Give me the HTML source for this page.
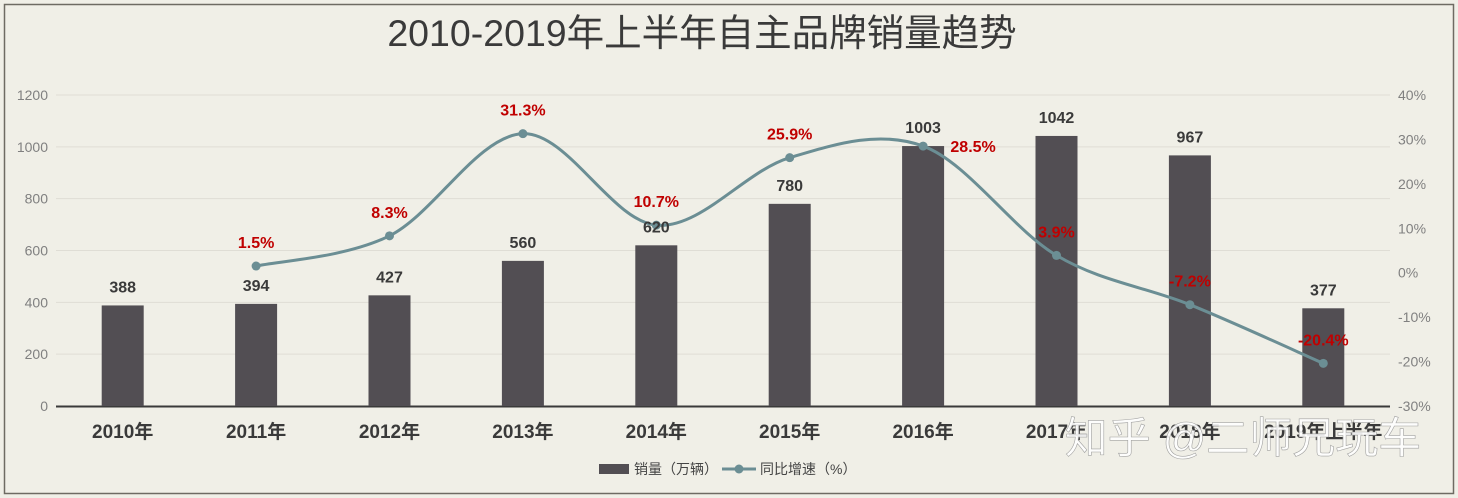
<!DOCTYPE html>
<html><head><meta charset="utf-8">
<style>
body{margin:0;background:#fff;}
svg{display:block;font-family:"Liberation Sans","Noto Sans CJK SC",sans-serif;}
</style></head>
<body>
<svg id="chart" width="1458" height="498">
<rect x="0" y="0" width="1458" height="498" fill="#f0efe7"/>
<rect x="4.5" y="4.5" width="1449" height="489" fill="#f0efe7" stroke="#6e6b63" stroke-width="1.5"/>
<text x="702" y="46" text-anchor="middle" font-size="37.5" fill="#3a3a3a">2010-2019年上半年自主品牌销量趋势</text>
<g id="grid"></g><g id="bars"></g><g id="line"></g><g id="labels"></g>
<g>
<rect x="599" y="464" width="30" height="10" fill="#524e53"/>
<text x="634" y="474" font-size="14" fill="#444">销量（万辆）</text>
<line x1="722" y1="469" x2="756" y2="469" stroke="#6b8e94" stroke-width="3"/>
<circle cx="739" cy="469" r="4.5" fill="#6b8e94"/>
<text x="760" y="474" font-size="14" fill="#444">同比增速（%）</text>
</g>
<text x="1243" y="453" text-anchor="middle" font-size="43" fill="#ffffff" stroke="#9a9a9a" stroke-width="0.6" opacity="0.9">知乎 @二师兄玩车</text>
</svg>
<script>
const categories=["2010年","2011年","2012年","2013年","2014年","2015年","2016年","2017年","2018年","2019年上半年"];
const sales=[388,394,427,560,620,780,1003,1042,967,377];
const growth=[null,1.5,8.3,31.3,10.7,25.9,28.5,3.9,-7.2,-20.4];
const leftTicks=[0,200,400,600,800,1000,1200];
const rightTicks=[40,30,20,10,0,-10,-20,-30];
const NS="http://www.w3.org/2000/svg";
const X0=56,X1=1390,Y0=406,Y1=95;
const band=(X1-X0)/categories.length;
const xc=i=>X0+band*(i+0.5);
const yL=v=>Y0-(v/1200)*(Y0-Y1);
const yR=v=>Y0-((v+30)/70)*(Y0-Y1);
function mk(tag,attrs,parent,text){const e=document.createElementNS(NS,tag);for(const k in attrs)e.setAttribute(k,attrs[k]);if(text!==undefined)e.textContent=text;parent.appendChild(e);return e;}
const grid=document.getElementById('grid'),bars=document.getElementById('bars'),line=document.getElementById('line'),labels=document.getElementById('labels');
leftTicks.forEach(t=>{
  if(t>0){const g=mk('line',{x1:X0,x2:X1,y1:yL(t),y2:yL(t),stroke:'#dfddd5','stroke-width':1},grid);
  
  }
  const e=mk('text',{x:48,y:yL(t)+5,'text-anchor':'end','font-size':14,fill:'#808080'},grid,t);
  
  
});
rightTicks.forEach(t=>{
  const e=mk('text',{x:1398,y:yR(t)+5,'font-size':14,fill:'#808080'},grid,t+'%');
  
  
});
categories.forEach((c,i)=>{
  const v=sales[i];
  const r=mk('rect',{x:xc(i)-21,y:yL(v),width:42,height:Y0-yL(v),fill:'#524e53'},bars);
  
  
  const l=mk('text',{x:xc(i),y:yL(v)-13,'text-anchor':'middle','font-size':16,'font-weight':'bold',fill:'#3a3a3a'},labels,v);
  
  
  const xl=mk('text',{x:xc(i),y:438,'text-anchor':'middle','font-size':19,'font-weight':'bold',fill:'#3a3a3a'},grid,c);
  
  
});
const ax=mk('line',{x1:X0,x2:X1,y1:Y0+0.5,y2:Y0+0.5,stroke:'#3a3a3a','stroke-width':2},grid);


const pts=[];growth.forEach((g,i)=>{if(g!==null)pts.push([xc(i),yR(g),g,i]);});
let d='M'+pts[0][0]+','+pts[0][1];
for(let k=0;k<pts.length-1;k++){
  const p0=pts[Math.max(0,k-1)],p1=pts[k],p2=pts[k+1],p3=pts[Math.min(pts.length-1,k+2)];
  const t=1/3;
  const c1=[p1[0]+(p2[0]-p0[0])*t/2,p1[1]+(p2[1]-p0[1])*t/2];
  const c2=[p2[0]-(p3[0]-p1[0])*t/2,p2[1]-(p3[1]-p1[1])*t/2];
  d+=' C'+c1[0]+','+c1[1]+' '+c2[0]+','+c2[1]+' '+p2[0]+','+p2[1];
}
const path=mk('path',{d:d,fill:'none',stroke:'#6b8e94','stroke-width':3},line);


pts.forEach(p=>{
  const c=mk('circle',{cx:p[0],cy:p[1],r:4.5,fill:'#6b8e94'},line);
  
  
  const right=p[3]===6;
  const l=mk('text',{x:right?p[0]+50:p[0],y:right?p[1]+6:p[1]-18,'text-anchor':'middle','font-size':16,'font-weight':'bold',fill:'#c00000'},labels,p[2].toFixed(1)+'%');
  
  
});
</script>
</body></html>
